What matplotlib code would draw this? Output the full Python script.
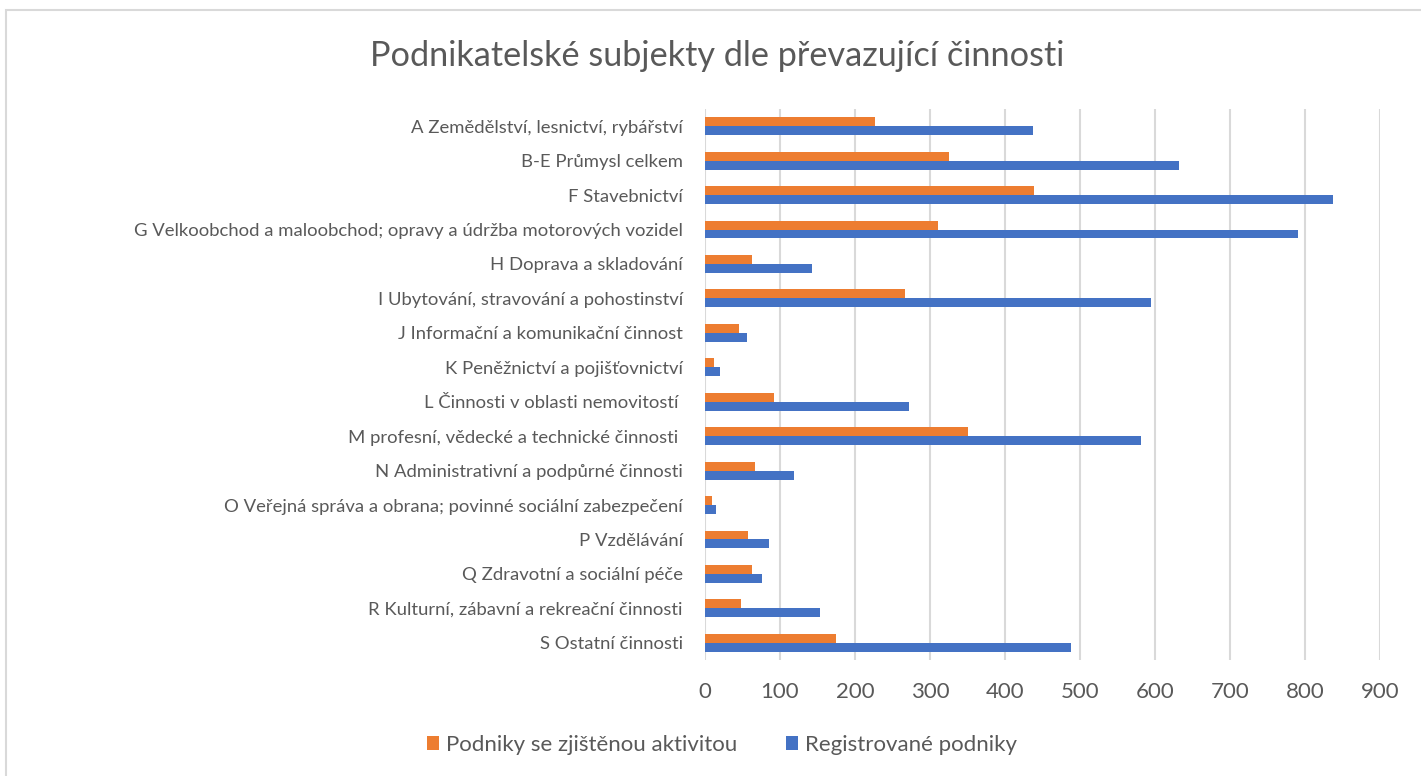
import matplotlib
matplotlib.use("Agg")
import matplotlib.pyplot as plt
import matplotlib.patches as patches
import numpy as np

# Data
CATEGORIES = [
    "A Zemědělství, lesnictví, rybářství",
    "B-E Průmysl celkem",
    "F Stavebnictví",
    "G Velkoobchod a maloobchod; opravy a údržba motorových vozidel",
    "H Doprava a skladování",
    "I Ubytování, stravování a pohostinství",
    "J Informační a komunikační činnost",
    "K Peněžnictví a pojišťovnictví",
    "L Činnosti v oblasti nemovitostí ",
    "M profesní, vědecké a technické činnosti ",
    "N Administrativní a podpůrné činnosti",
    "O Veřejná správa a obrana; povinné sociální zabezpečení",
    "P Vzdělávání",
    "Q Zdravotní a sociální péče",
    "R Kulturní, zábavní a rekreační činnosti",
    "S Ostatní činnosti",
]
ACTIVE = [226, 325, 439, 310, 62, 267, 45, 12, 92, 351, 67, 9, 57, 63, 48, 174]
REGISTERED = [437, 632, 837, 790, 142, 594, 56, 20, 272, 581, 118, 15, 85, 76, 153, 488]
ACTIVE_LABEL = "Podniky se zjištěnou aktivitou"
REGISTERED_LABEL = "Registrované podniky"
TITLE = "Podnikatelské subjekty dle převazující činnosti"
X_TICKS = list(range(0, 1000, 100))

# Style
ORANGE = "#ED7D31"
BLUE = "#4472C4"
GRID = "#D9D9D9"
TEXT = "#595959"
BAR_H = 0.26
W, H = 1421, 776

plt.rcParams["font.family"] = ["Lato", "DejaVu Sans"]

fig = plt.figure(figsize=(W / 100, H / 100), dpi=100)
ax = fig.add_axes([705 / W, 1 - 660 / H, 675 / W, 551 / H])

y = np.arange(len(CATEGORIES))
ax.barh(y - BAR_H / 2, ACTIVE, BAR_H, color=ORANGE, label=ACTIVE_LABEL)
ax.barh(y + BAR_H / 2, REGISTERED, BAR_H, color=BLUE, label=REGISTERED_LABEL)

ax.set_ylim(len(CATEGORIES) - 0.5, -0.5)
ax.set_xlim(0, 900)
ax.set_xticks(X_TICKS)
ax.set_yticks(y)
ax.set_yticklabels(CATEGORIES)
ax.tick_params(axis="x", length=0, pad=16, labelsize=16, labelcolor=TEXT)
ax.tick_params(axis="y", length=0, pad=16, labelsize=13.3, labelcolor=TEXT)
ax.grid(axis="x", color=GRID, linewidth=1.5)
ax.set_axisbelow(True)
for s in ax.spines.values():
    s.set_visible(False)

fig.text(717 / W, 1 - 56 / H, TITLE, ha="center", va="center",
         fontsize=24.7, color=TEXT)

leg = fig.legend(loc="center", bbox_to_anchor=(722 / W, 1 - 745 / H),
                 ncol=2, frameon=False, fontsize=16, handlelength=0.55,
                 handleheight=0.55, handletextpad=0.3, columnspacing=2.2)
for t in leg.get_texts():
    t.set_color(TEXT)

# chart border (top and left edges only visible)
fig.patches.append(patches.Rectangle(
    (6 / W, -0.1), 1.1, 1 - 10 / H + 0.1, transform=fig.transFigure,
    fill=False, edgecolor=GRID, linewidth=1.5))

fig.savefig("out.png", dpi=100)
